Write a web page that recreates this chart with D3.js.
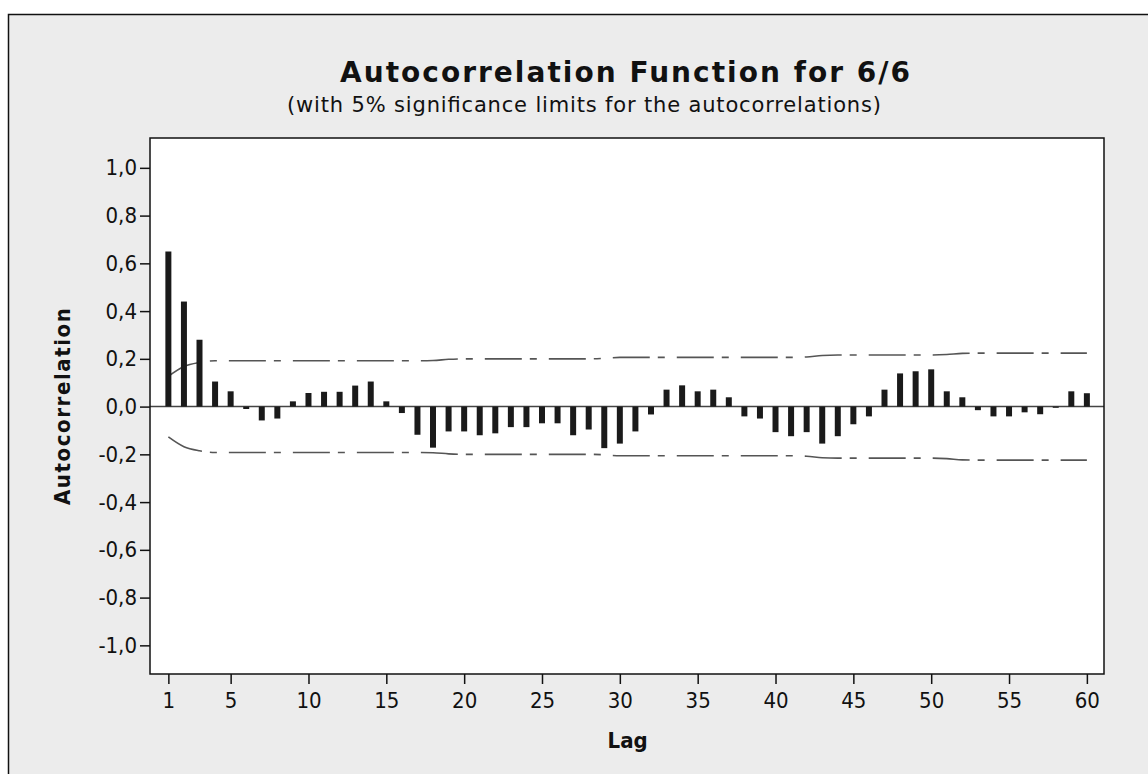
<!DOCTYPE html>
<html>
<head>
<meta charset="utf-8">
<script src="https://cdn.jsdelivr.net/npm/d3@7"></script>
<style>
  body { margin: 0; background: #fff; }
  text { font-family: "DejaVu Sans Condensed", "DejaVu Sans", Verdana, sans-serif; font-stretch: condensed; fill: #111; }
  text.wide { font-family: "DejaVu Sans", Verdana, sans-serif; font-stretch: normal; }
</style>
</head>
<body>
<div id="mainDiv"></div>
<script>
// ACF values, lag 1..60
const lags = d3.range(1, 61);
const acf = [
  0.65, 0.44, 0.28, 0.105, 0.064, -0.01, -0.058, -0.05, 0.022, 0.057,
  0.062, 0.062, 0.088, 0.105, 0.022, -0.027, -0.118, -0.172, -0.104, -0.104,
  -0.12, -0.112, -0.086, -0.086, -0.07, -0.07, -0.12, -0.096, -0.174, -0.155,
  -0.104, -0.033, 0.071, 0.089, 0.064, 0.071, 0.039, -0.041, -0.05, -0.107,
  -0.124, -0.107, -0.155, -0.124, -0.074, -0.041, 0.071, 0.139, 0.148, 0.156,
  0.064, 0.039, -0.015, -0.041, -0.041, -0.024, -0.032, -0.005, 0.064, 0.056
];
// 5% significance limit (upper; lower is the negative)
const limit = [
  0.127, 0.168, 0.185, 0.192, 0.192, 0.192, 0.192, 0.192, 0.192, 0.192,
  0.192, 0.192, 0.192, 0.192, 0.192, 0.192, 0.192, 0.193, 0.198, 0.200,
  0.200, 0.200, 0.200, 0.200, 0.200, 0.200, 0.200, 0.200, 0.202, 0.206,
  0.206, 0.206, 0.206, 0.206, 0.206, 0.206, 0.206, 0.206, 0.206, 0.206,
  0.206, 0.208, 0.214, 0.216, 0.216, 0.216, 0.216, 0.216, 0.216, 0.216,
  0.218, 0.223, 0.224, 0.224, 0.224, 0.224, 0.224, 0.224, 0.224, 0.224
];
const xTicks = [1, 5, 10, 15, 20, 25, 30, 35, 40, 45, 50, 55, 60];
const yTicks = [-1, -0.8, -0.6, -0.4, -0.2, 0, 0.2, 0.4, 0.6, 0.8, 1];

const W = 1148, H = 774;
let margin = { top: 138, right: 44, bottom: 100, left: 150 },
    width = W - margin.left - margin.right,
    height = H - margin.top - margin.bottom;

let svg = d3.select("#mainDiv").append("svg")
    .attr("width", W).attr("height", H);

// grey outer panel
svg.append("rect")
    .attr("x", 8.5).attr("y", 14.5)
    .attr("width", W).attr("height", H)
    .attr("fill", "#ececec")
    .attr("stroke", "#111").attr("stroke-width", 1.5);

svg.append("text")
    .attr("class", "wide")
    .attr("x", 340).attr("y", 82)
    .attr("textLength", 570).attr("lengthAdjust", "spacing")
    .style("font-size", "28px").style("font-weight", "bold")
    .text("Autocorrelation Function for 6/6");
svg.append("text")
    .attr("class", "wide")
    .attr("x", 287).attr("y", 112)
    .attr("textLength", 594).attr("lengthAdjust", "spacing")
    .style("font-size", "21px")
    .text("(with 5% significance limits for the autocorrelations)");

let g = svg.append("g")
    .attr("transform", "translate(" + margin.left + "," + margin.top + ")");

let x = d3.scaleLinear().domain([-0.18, 61.1]).range([0, width]);
let y = d3.scaleLinear().domain([-1.12, 1.125]).range([height, 0]);

g.append("rect")
    .attr("width", width).attr("height", height)
    .attr("fill", "#fff");

// zero reference line
g.append("line")
    .attr("x1", 0).attr("x2", width)
    .attr("y1", y(0)).attr("y2", y(0))
    .attr("stroke", "#444").attr("stroke-width", 1.5);

// significance limits
let limLine = d3.line()
    .x((d, i) => x(lags[i]))
    .curve(d3.curveMonotoneX);
[1, -1].forEach(function(s) {
  g.append("path")
      .attr("d", limLine.y((d, i) => y(s * limit[i]))(limit))
      .attr("fill", "none")
      .attr("stroke", "#555")
      .attr("stroke-width", 1.6)
      .attr("stroke-dasharray", "37,8,7,12");
});

// bars
g.selectAll(".bar")
    .data(acf)
  .enter().append("line")
    .attr("class", "bar")
    .attr("x1", (d, i) => x(lags[i])).attr("x2", (d, i) => x(lags[i]))
    .attr("y1", y(0))
    .attr("y2", d => y(d))
    .attr("stroke", "#1a1a1a")
    .attr("stroke-width", 6);

// frame
g.append("rect")
    .attr("width", width).attr("height", height)
    .attr("fill", "none")
    .attr("stroke", "#111").attr("stroke-width", 1.5);

let fmt = d => d3.format(".1f")(d).replace(".", ",").replace("−", "-");

let yAxis = g.append("g")
    .call(d3.axisLeft(y).tickValues(yTicks).tickSize(10).tickPadding(3).tickFormat(fmt));
let xAxis = g.append("g")
    .attr("transform", "translate(0," + height + ")")
    .call(d3.axisBottom(x).tickValues(xTicks).tickSize(10).tickPadding(8));
[xAxis, yAxis].forEach(function(a) {
  a.select(".domain").remove();
  a.selectAll(".tick line").attr("stroke", "#111").attr("stroke-width", 1.5);
  a.selectAll("text").style("font-size", "22px").attr("fill", "#111")
      .style("font-family", "'DejaVu Sans Condensed', 'DejaVu Sans', Verdana, sans-serif");
});

svg.append("text")
    .attr("x", margin.left + x(30.5)).attr("y", 748)
    .attr("text-anchor", "middle")
    .style("font-size", "22px").style("font-weight", "bold")
    .text("Lag");
svg.append("text")
    .attr("transform", "translate(70," + (margin.top + y(0)) + ") rotate(-90)")
    .attr("text-anchor", "middle")
    .attr("textLength", 197).attr("lengthAdjust", "spacing")
    .style("font-size", "22px").style("font-weight", "bold")
    .text("Autocorrelation");
</script>
</body>
</html>
